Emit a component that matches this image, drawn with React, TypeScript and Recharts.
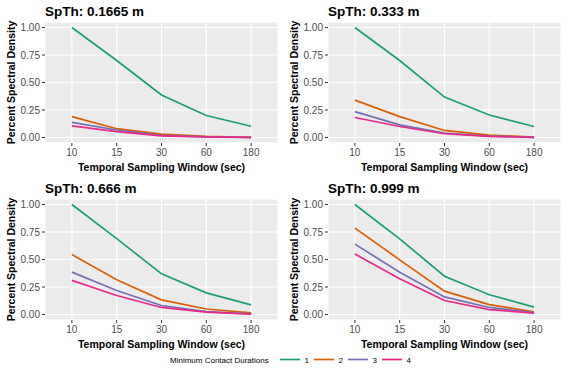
import React from 'react';
import { LineChart, Line, XAxis, YAxis, CartesianGrid } from 'recharts';

// ---- Data ----
const windows = ['10', '15', '30', '60', '180'];
const durations = ['1', '2', '3', '4'];
const colors = ['#1B9E77', '#D95F02', '#7570B3', '#E7298A'];
const panelTitles = ['SpTh: 0.1665 m', 'SpTh: 0.333 m', 'SpTh: 0.666 m', 'SpTh: 0.999 m'];

// SpTh 0.1665 m
const p1_d1 = [1.0, 0.7, 0.386, 0.2, 0.102];
const p1_d2 = [0.19, 0.08, 0.03, 0.01, 0.002];
const p1_d3 = [0.137, 0.068, 0.02, 0.006, 0.001];
const p1_d4 = [0.105, 0.053, 0.015, 0.005, 0.001];
// SpTh 0.333 m
const p2_d1 = [1.0, 0.7, 0.367, 0.205, 0.1];
const p2_d2 = [0.34, 0.19, 0.064, 0.022, 0.004];
const p2_d3 = [0.235, 0.115, 0.04, 0.013, 0.002];
const p2_d4 = [0.182, 0.1, 0.034, 0.011, 0.001];
// SpTh 0.666 m
const p3_d1 = [1.0, 0.69, 0.37, 0.197, 0.088];
const p3_d2 = [0.545, 0.315, 0.133, 0.05, 0.015];
const p3_d3 = [0.385, 0.218, 0.082, 0.026, 0.006];
const p3_d4 = [0.31, 0.173, 0.064, 0.021, 0.004];
// SpTh 0.999 m
const p4_d1 = [1.0, 0.688, 0.348, 0.18, 0.067];
const p4_d2 = [0.785, 0.497, 0.212, 0.09, 0.024];
const p4_d3 = [0.64, 0.385, 0.16, 0.064, 0.018];
const p4_d4 = [0.55, 0.324, 0.127, 0.045, 0.012];

const panelSeries = [
  [p1_d1, p1_d2, p1_d3, p1_d4],
  [p2_d1, p2_d2, p2_d3, p2_d4],
  [p3_d1, p3_d2, p3_d3, p3_d4],
  [p4_d1, p4_d2, p4_d3, p4_d4],
];

const yTicks = [0, 0.25, 0.5, 0.75, 1];
const yMinorTicks = [0.125, 0.375, 0.625, 0.875];
const xTickIdx = windows.map((_, i) => i);

const yTitle = 'Percent Spectral Density';
const xTitle = 'Temporal Sampling Window (sec)';
const legendTitle = 'Minimum Contact Durations';

// ---- Layout ----
const FONT = '"Liberation Sans", Arial, sans-serif';
const PW = 283;
const PH = 177;
const M = { top: 22, right: 5, bottom: 0, left: 0 };
const YW = 45;
const XH = 34;
const positions = [
  [0, 0],
  [283, 0],
  [0, 177],
  [283, 177],
];

function buildRows(series: number[][]) {
  return windows.map((w, i) => {
    const row: Record<string, number | string> = { i, w };
    durations.forEach((d, k) => {
      row['d' + d] = series[k][i];
    });
    return row;
  });
}

function Panel({ idx }: { idx: number }) {
  const rows = buildRows(panelSeries[idx]);
  return (
    <LineChart width={PW} height={PH} data={rows} margin={M}>
      <CartesianGrid fill="#EBEBEB" stroke="#FFFFFF" strokeWidth={1.1} />
      <CartesianGrid
        vertical={false}
        yAxisId="minor"
        stroke="#FFFFFF"
        strokeWidth={0.5}
      />
      <XAxis
        dataKey="i"
        type="number"
        domain={[-0.6, 4.6]}
        ticks={xTickIdx}
        tickFormatter={(v: number) => windows[v]}
        axisLine={false}
        tickLine={{ stroke: '#333333' }}
        tickSize={3}
        tickMargin={3}
        height={XH}
        tick={{ fill: '#4D4D4D', fontSize: 10 }}
        interval={0}
      />
      <YAxis
        type="number"
        domain={[-0.05, 1.05]}
        ticks={yTicks}
        tickFormatter={(v: number) => v.toFixed(2)}
        axisLine={false}
        tickLine={{ stroke: '#333333' }}
        tickSize={3}
        tickMargin={2}
        width={YW}
        tick={{ fill: '#4D4D4D', fontSize: 10 }}
        interval={0}
      />
      <YAxis
        yAxisId="minor"
        type="number"
        domain={[-0.05, 1.05]}
        ticks={yMinorTicks}
        hide
        interval={0}
      />
      {durations.map((d, k) => (
        <Line
          key={d}
          dataKey={'d' + d}
          stroke={colors[k]}
          strokeWidth={1.7}
          dot={false}
          isAnimationActive={false}
          type="linear"
        />
      ))}
    </LineChart>
  );
}

export default function App() {
  const plotLeft = M.left + YW;
  const plotRight = PW - M.right;
  const plotTop = M.top;
  const plotBottom = PH - M.bottom - XH;
  const legendX0 = 280;
  const legendStep = 34;
  return (
    <div
      style={{
        position: 'absolute',
        left: 0,
        top: 0,
        width: 567,
        height: 369,
        background: '#FFFFFF',
        fontFamily: FONT,
      }}
    >
      {positions.map(([x, y], idx) => (
        <div key={idx} style={{ position: 'absolute', left: x, top: y }}>
          <Panel idx={idx} />
        </div>
      ))}
      <svg
        width={567}
        height={369}
        style={{ position: 'absolute', left: 0, top: 0, pointerEvents: 'none' }}
        fontFamily={FONT}
      >
        {positions.map(([x, y], idx) => (
          <g key={idx} transform={`translate(${x},${y})`}>
            <text x={plotLeft} y={16} fontSize={13.5} fontWeight="bold" fill="#000">
              {panelTitles[idx]}
            </text>
            <text
              x={0}
              y={0}
              fontSize={10.5}
              fontWeight="bold"
              fill="#000"
              textAnchor="middle"
              transform={`translate(${14.5},${(plotTop + plotBottom) / 2}) rotate(-90)`}
            >
              {yTitle}
            </text>
            <text
              x={(plotLeft + plotRight) / 2}
              y={170.5}
              fontSize={10.5}
              fontWeight="bold"
              fill="#000"
              textAnchor="middle"
            >
              {xTitle}
            </text>
          </g>
        ))}
        <text x={170} y={362.5} fontSize={8} fill="#000">
          {legendTitle}
        </text>
        {durations.map((d, k) => (
          <g key={d}>
            <line
              x1={legendX0 + k * legendStep}
              x2={legendX0 + k * legendStep + 20}
              y1={359.5}
              y2={359.5}
              stroke={colors[k]}
              strokeWidth={1.7}
            />
            <text x={legendX0 + k * legendStep + 24.5} y={362.5} fontSize={8} fill="#000">
              {d}
            </text>
          </g>
        ))}
      </svg>
    </div>
  );
}
